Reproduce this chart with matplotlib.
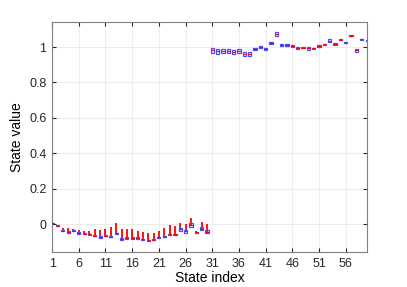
import matplotlib
matplotlib.use("Agg")
import matplotlib.pyplot as plt
import numpy as np

# state index
states = np.arange(1, 61)

# median of each state (box centre)
medians = [0.005, -0.010, -0.038, -0.045, -0.038, -0.051, -0.055, -0.058, -0.066, -0.073,
           -0.066, -0.071, -0.053, -0.083, -0.079, -0.079, -0.079, -0.087, -0.092, -0.089,
           -0.075, -0.071, -0.058, -0.058, -0.030, -0.040, -0.006, -0.047, -0.026, -0.043,
           0.981, 0.977, 0.979, 0.977, 0.972, 0.977, 0.962, 0.962, 0.990, 1.000,
           0.989, 1.021, 1.073, 1.011, 1.013, 1.006, 0.996, 0.996, 0.992, 0.992,
           1.008, 1.015, 1.036, 1.017, 1.041, 1.025, 1.064, 0.981, 1.043, 1.036]

# half height of each box
half_h = [0.002, 0.002, 0.004, 0.004, 0.004, 0.004, 0.004, 0.004, 0.004, 0.004,
          0.004, 0.004, 0.004, 0.005, 0.004, 0.004, 0.004, 0.004, 0.004, 0.004,
          0.004, 0.004, 0.004, 0.004, 0.008, 0.008, 0.010, 0.004, 0.008, 0.008,
          0.014, 0.014, 0.012, 0.012, 0.014, 0.012, 0.012, 0.012, 0.006, 0.006,
          0.006, 0.006, 0.012, 0.006, 0.006, 0.003, 0.006, 0.004, 0.006, 0.004,
          0.006, 0.004, 0.008, 0.004, 0.003, 0.002, 0.002, 0.010, 0.002, 0.002]

# top of red whisker
tops = [0.005, -0.006, -0.025, -0.025, -0.030, -0.035, -0.040, -0.040, -0.028, -0.035,
        -0.026, -0.015, 0.007, -0.026, -0.030, -0.030, -0.038, -0.045, -0.053, -0.050,
        -0.038, -0.025, -0.005, -0.012, 0.007, 0.000, 0.034, -0.040, 0.010, 0.000,
        0.981, 0.977, 0.979, 0.977, 0.972, 0.977, 0.962, 0.962, 0.990, 1.000,
        0.989, 1.021, 1.073, 1.011, 1.013, 1.010, 0.996, 1.000, 0.992, 0.996,
        1.008, 1.015, 1.036, 1.017, 1.041, 1.025, 1.064, 0.981, 1.043, 1.036]

medians = np.array(medians)
half_h = np.array(half_h)
tops = np.array(tops)

plt.rcParams['font.family'] = ['Liberation Sans', 'DejaVu Sans']

fig = plt.figure(figsize=(4.07, 2.87), dpi=100)
ax = fig.add_axes([0.128, 0.122, 0.774, 0.801])

# red whiskers
ax.vlines(states, medians, tops, color="red", lw=1.3, zorder=3)

# blue boxes
ax.bar(states, 2 * half_h, bottom=medians - half_h, width=0.6,
       fill=False, edgecolor="#4a4aff", lw=0.9, zorder=4)

# red median lines
ax.hlines(medians, states - 0.3, states + 0.3, color="red", lw=0.8, zorder=5)

ax.set_xlim(1, 60)
ax.set_ylim(-0.158, 1.141)
ax.set_xticks(np.arange(1, 57, 5))
ax.set_yticks([0, 0.2, 0.4, 0.6, 0.8, 1])
ax.set_yticklabels(["0", "0.2", "0.4", "0.6", "0.8", "1"])
ax.grid(True, color="#ececec", lw=0.7)
ax.set_axisbelow(True)
ax.tick_params(direction="in", length=3, labelsize=9, colors="#262626",
               top=True, right=True, pad=4)
for s in ax.spines.values():
    s.set_color("#808080")
    s.set_linewidth(0.8)
ax.set_xlabel("State index", fontsize=10, labelpad=1)
ax.set_ylabel("State value", fontsize=10, labelpad=4)

fig.savefig("out.png", dpi=100)
